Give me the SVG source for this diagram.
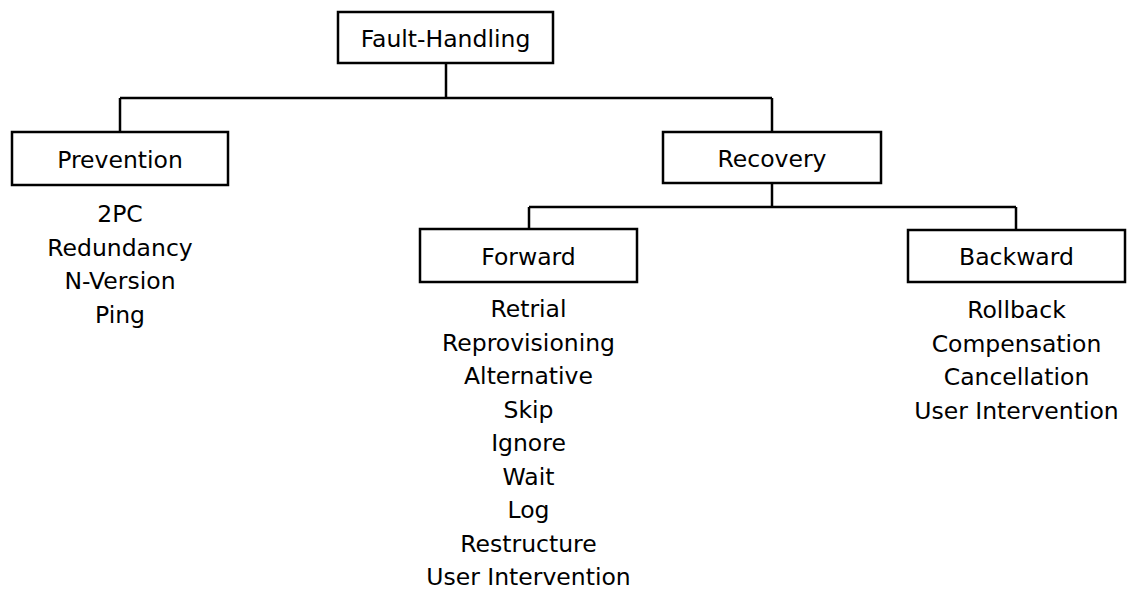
<svg xmlns="http://www.w3.org/2000/svg" width="1128" height="593" viewBox="0 0 1128 593">
  <style>
    .box { fill: #ffffff; stroke: #000000; stroke-width: 2.5; }
    .link { fill: none; stroke: #000000; stroke-width: 2.5; }
    text { font-family: "DejaVu Sans", Verdana, sans-serif; font-size: 23.5px; fill: #000000; text-anchor: middle; }
  </style>
  <rect width="1128" height="593" fill="#ffffff"/>

  <!-- tree connectors -->
  <g id="connectors">
    <path class="link" d="M446 63 V98"/>
    <path class="link" d="M120 98 H772"/>
    <path class="link" d="M120 98 V132"/>
    <path class="link" d="M772 98 V132"/>
    <path class="link" d="M772 183 V207"/>
    <path class="link" d="M529 207 H1016"/>
    <path class="link" d="M529 207 V229"/>
    <path class="link" d="M1016 207 V230"/>
  </g>

  <g id="fault-handling">
    <rect class="box" x="338" y="12" width="215" height="51"/>
    <text x="445.5" y="46.5">Fault-Handling</text>
  </g>

  <g id="prevention">
    <rect class="box" x="12" y="132" width="216" height="53"/>
    <text x="120" y="168">Prevention</text>
    <text x="120" y="222">2PC</text>
    <text x="120" y="255.5">Redundancy</text>
    <text x="120" y="289">N-Version</text>
    <text x="120" y="322.5">Ping</text>
  </g>

  <g id="recovery">
    <rect class="box" x="663" y="132" width="218" height="51"/>
    <text x="772" y="166.5">Recovery</text>
  </g>

  <g id="forward">
    <rect class="box" x="420" y="229" width="217" height="53"/>
    <text x="528.5" y="265">Forward</text>
    <text x="528.5" y="317">Retrial</text>
    <text x="528.5" y="350.5">Reprovisioning</text>
    <text x="528.5" y="384">Alternative</text>
    <text x="528.5" y="417.5">Skip</text>
    <text x="528.5" y="451">Ignore</text>
    <text x="528.5" y="484.5">Wait</text>
    <text x="528.5" y="518">Log</text>
    <text x="528.5" y="551.5">Restructure</text>
    <text x="528.5" y="585">User Intervention</text>
  </g>

  <g id="backward">
    <rect class="box" x="908" y="230" width="217" height="52"/>
    <text x="1016.5" y="265">Backward</text>
    <text x="1016.5" y="318">Rollback</text>
    <text x="1016.5" y="351.5">Compensation</text>
    <text x="1016.5" y="385">Cancellation</text>
    <text x="1016.5" y="418.5">User Intervention</text>
  </g>
</svg>
